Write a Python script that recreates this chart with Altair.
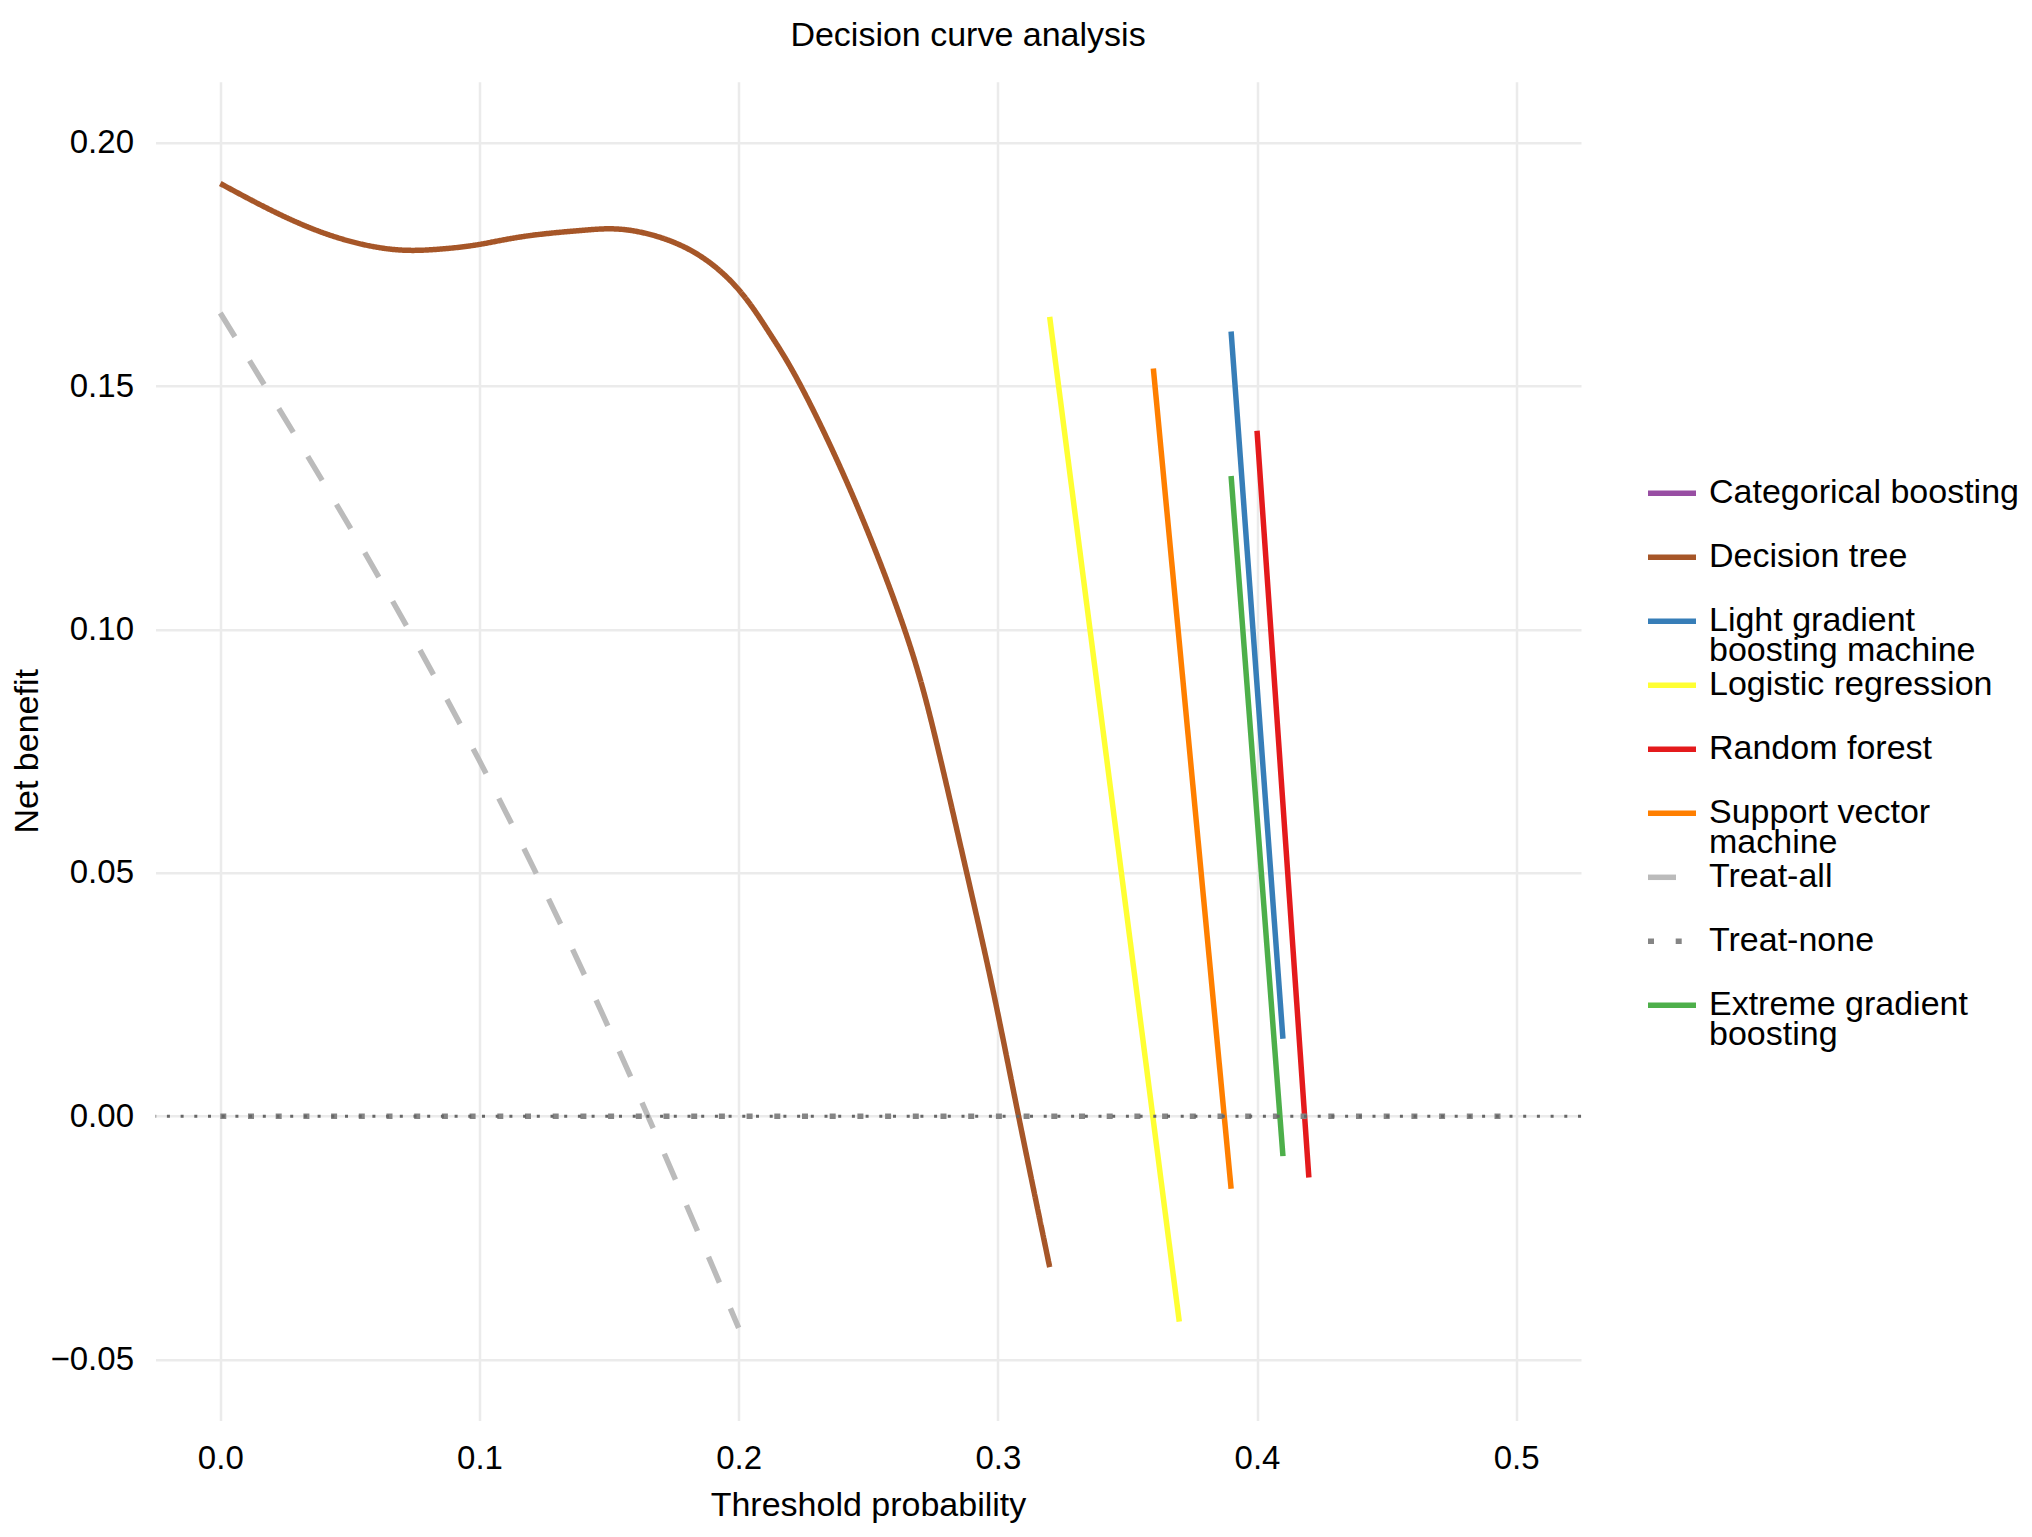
import altair as alt
import pandas as pd

# ---- series names (legend order) and styles ----
models = [
    "Categorical boosting",
    "Decision tree",
    "Light gradient boosting machine",
    "Logistic regression",
    "Random forest",
    "Support vector machine",
    "Treat-all",
    "Treat-none",
    "Extreme gradient boosting",
]
colors = ["#984EA3", "#A65628", "#377EB8", "#FFFF33", "#E41A1C",
          "#FF7F00", "#BBBBBB", "#858585", "#4DAF4A"]
dashes = [[1, 0], [1, 0], [1, 0], [1, 0], [1, 0], [1, 0], [28, 28], [6, 21.7], [1, 0]]
legend_lines = {
    "Light gradient boosting machine": ["Light gradient", "boosting machine"],
    "Support vector machine": ["Support vector", "machine"],
    "Extreme gradient boosting": ["Extreme gradient", "boosting"],
}

# ---- values ----
dt_x = [0.000, 0.022, 0.044, 0.066, 0.084, 0.100, 0.118, 0.140, 0.158, 0.180,
        0.199, 0.212, 0.224, 0.244, 0.264, 0.276, 0.288, 0.298, 0.308, 0.320]
dt_y = [0.1916, 0.1855, 0.1807, 0.1781, 0.1781, 0.1791, 0.1808, 0.1820, 0.1820, 0.1783,
        0.1704, 0.1608, 0.1500, 0.1275, 0.1000, 0.0775, 0.0500, 0.0262, 0.0000, -0.0310]

lr_x, lr_y = [0.32, 0.37], [0.1642, -0.0422]
svm_x, svm_y = [0.36, 0.39], [0.1536, -0.0149]
lgbm_x, lgbm_y = [0.39, 0.41], [0.1612, 0.0159]
rf_x, rf_y = [0.40, 0.42], [0.1408, -0.0126]
xgb_x, xgb_y = [0.39, 0.41], [0.1315, -0.0082]
cat_x, cat_y = [], []

all_x = [0.00, 0.05, 0.10, 0.15, 0.20]
all_y = [0.165, 0.121, 0.073, 0.018, -0.0435]

none_x, none_y = [0.0, 0.5], [0.0, 0.0]

x_ticks = [0.0, 0.1, 0.2, 0.3, 0.4, 0.5]
y_ticks = [-0.05, 0.0, 0.05, 0.10, 0.15, 0.20]

series = [
    ("Categorical boosting", cat_x, cat_y),
    ("Decision tree", dt_x, dt_y),
    ("Light gradient boosting machine", lgbm_x, lgbm_y),
    ("Logistic regression", lr_x, lr_y),
    ("Random forest", rf_x, rf_y),
    ("Support vector machine", svm_x, svm_y),
    ("Treat-all", all_x, all_y),
    ("Treat-none", none_x, none_y),
    ("Extreme gradient boosting", xgb_x, xgb_y),
]
rows = []
for name, xs, ys in series:
    for xv, yv in zip(xs, ys):
        rows.append({"model": name, "threshold": xv, "net_benefit": yv})
df = pd.DataFrame(rows)

FONT = "Liberation Sans"
FS = 34
FS_TICK = 33
W, H = 1425.5, 1338.6

label_expr = " : ".join(
    f"datum.label === '{k}' ? {v!r}" for k, v in legend_lines.items()
) + " : datum.label"

x_enc = alt.X(
    "threshold:Q",
    scale=alt.Scale(domain=[-0.025, 0.525], nice=False, zero=False),
    axis=alt.Axis(values=x_ticks, format=".1f", title="Threshold probability",
                  titleX=712.5, titleY=84.6, titleBaseline="middle", titleAlign="center",
                  labelPadding=22),
)
y_enc = alt.Y(
    "net_benefit:Q",
    scale=alt.Scale(domain=[-0.0625, 0.2125], nice=False, zero=False),
    axis=alt.Axis(values=y_ticks, format=".2f", title="Net benefit",
                  titleX=-128, titleY=669, titleBaseline="middle", titleAlign="center",
                  titleAngle=-90, labelPadding=22),
)

lines = alt.Chart(df).mark_line(strokeWidth=5.5, interpolate="natural", strokeCap="butt").encode(
    x=x_enc,
    y=y_enc,
    color=alt.Color(
        "model:N",
        title=None,
        scale=alt.Scale(domain=models, range=colors),
        legend=alt.Legend(
            orient="none", legendX=1499.5, legendY=394.5,
            symbolType="M-2,0H2", symbolSize=576, symbolStrokeWidth=5.5,
            labelFontSize=FS, labelFont=FONT, labelColor="#000000",
            labelOffset=20, labelLimit=800,
            rowPadding=0, gridAlign="all",
            labelExpr=label_expr,
        ),
    ),
    strokeDash=alt.StrokeDash(
        "model:N", title=None,
        scale=alt.Scale(domain=models, range=dashes),
    ),
)

rule = alt.Chart(pd.DataFrame({"net_benefit": [0.0]})).mark_rule(
    color="#666666", strokeWidth=3, strokeDash=[3, 10.7]
).encode(y=alt.Y("net_benefit:Q", title="Net benefit"))

chart = alt.layer(lines, rule).properties(
    width=W, height=H,
    padding={"left": 147.5, "top": 73.8, "right": 442.5, "bottom": 108.6},
    autosize=alt.AutoSizeParams(type="none"),
    title=alt.TitleParams(
        "Decision curve analysis", fontSize=FS, font=FONT, fontWeight="normal",
        color="#000000", anchor="middle", frame="group", dx=99.75, offset=33, dy=31,
        baseline="alphabetic",
    ),
).configure(
    style={"guide-label": {"lineHeight": 30}}
).configure_axis(
    labelFont=FONT, labelFontSize=FS_TICK, labelColor="#000000",
    titleFont=FONT, titleFontSize=FS, titleColor="#000000", titleFontWeight="normal",
    ticks=False, tickSize=0, domain=False,
    grid=True, gridColor="#EBEBEB", gridWidth=2.5,
).configure_view(stroke=None)

chart.save("out.html", embed_options={"renderer": "svg", "actions": False})
